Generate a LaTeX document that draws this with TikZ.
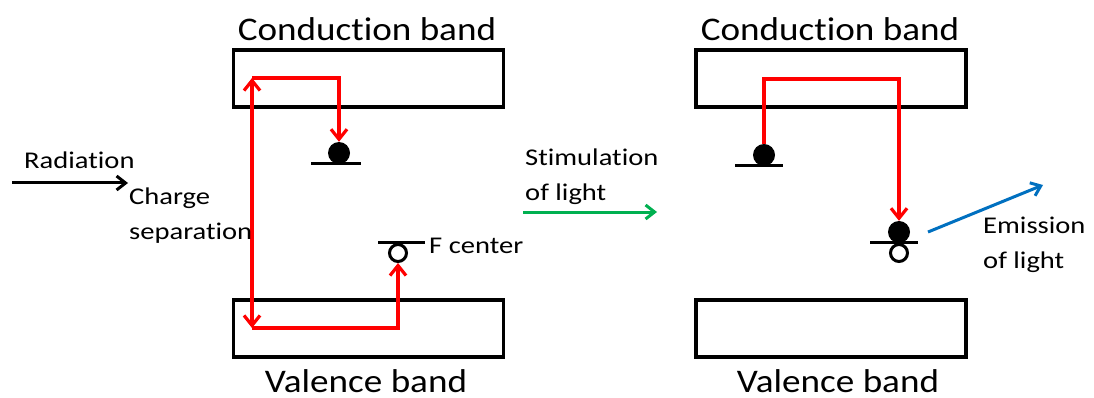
\documentclass[tikz,border=0pt]{standalone}
\usepackage{fontspec}
\setmainfont[Ligatures=NoCommon]{Carlito}
\newfontfamily\titlefont[Ligatures=NoCommon,FakeStretch=1.125]{Carlito}
\newfontfamily\labfont[Ligatures=NoCommon,FakeStretch=1.19]{Carlito}
\usetikzlibrary{arrows.meta}
\definecolor{stimgreen}{RGB}{0,176,80}
\definecolor{emitblue}{RGB}{0,112,192}
\begin{document}
\begin{tikzpicture}[x=1pt,y=-1pt,
  band/.style={draw, line width=3.2pt, minimum width=270pt, minimum height=57pt, inner sep=0pt},
  title/.style={font=\titlefont\fontsize{33}{38}\selectfont, inner sep=0pt},
  lab/.style={font=\labfont\fontsize{24}{35}\selectfont, align=left, anchor=west, inner sep=0pt},
  lvl/.style={line width=3pt},
  edot/.style={circle, fill=black, minimum size=22pt, inner sep=0pt},
  hole/.style={circle, draw, line width=3pt, fill=white, minimum size=17pt, inner sep=0pt},
  redarr/.style={draw=red, line width=3.2pt, -{Straight Barb[length=10pt,width=16pt]}},
  redboth/.style={draw=red, line width=3.2pt, {Straight Barb[length=10pt,width=16pt]}-{Straight Barb[length=10pt,width=16pt]}},
  plainarr/.style={line width=3pt, -{Straight Barb[length=9pt,width=14pt]}}
]
\useasboundingbox (0,0) rectangle (1094,398);
\fill[white] (0,0) rectangle (1094,398);

% left bands
\node[band] (cb1) at (368.5,78.5) {};
\node[band] (vb1) at (368.5,328.5) {};
\node[title] (cbt1) at (367,29) {Conduction band};
\node[title] (vbt1) at (366,381) {Valence band};

% right bands
\node[band] (cb2) at (831,78.5) {};
\node[band] (vb2) at (831,328.5) {};
\node[title] (cbt2) at (830,29) {Conduction band};
\node[title] (vbt2) at (838,381) {Valence band};

% left levels
\draw[lvl] (311,164) coordinate (l1a) -- (361,164) coordinate (l1b);
\node[edot] (e1) at (339,153) {};
\draw[lvl] (378,242) coordinate (l2a) -- (425,242) coordinate (l2b);
\node[hole] (h1) at (398,253) {};
\node[lab] (fc) at (429,246) {F center};

% left red paths
\coordinate (ct) at (252,78);
\coordinate (cbm) at (252,328);
\draw[redboth] (cbm) -- (ct);
\draw[redarr] (ct) -| (e1.north);
\draw[redarr] (cbm) -| (h1.south);

% radiation
\coordinate (ra) at (12,183);
\coordinate (rb) at (128,183);
\draw[plainarr] (ra) -- (rb);
\node[lab] (rad) at (24,160) {Radiation};
\node[lab] (cs) at (129,216) {Charge\\separation};

% stimulation
\coordinate (ga) at (523,212);
\coordinate (gb) at (657,212);
\draw[plainarr, draw=stimgreen] (ga) -- (gb);
\node[lab] (stim) at (525,177) {Stimulation\\of light};

% right levels
\draw[lvl] (735,166) coordinate (l3a) -- (783,166) coordinate (l3b);
\node[edot] (e2) at (764,155) {};
\draw[lvl] (870,242) coordinate (l4a) -- (918,242) coordinate (l4b);
\node[hole] (h2) at (899,253) {};
\node[edot] (e3) at (899,232) {};

% right red path
\coordinate (rt1) at (764,79);
\coordinate (rt2) at (899,79);
\draw[redarr] (e2.north) -- (rt1) -- (rt2) -- (e3.north);

% emission
\coordinate (ba) at (928,232);
\coordinate (bb) at (1043,185);
\draw[plainarr, draw=emitblue] (ba) -- (bb);
\node[lab] (em) at (983,245) {Emission\\of light};
\end{tikzpicture}
\end{document}
